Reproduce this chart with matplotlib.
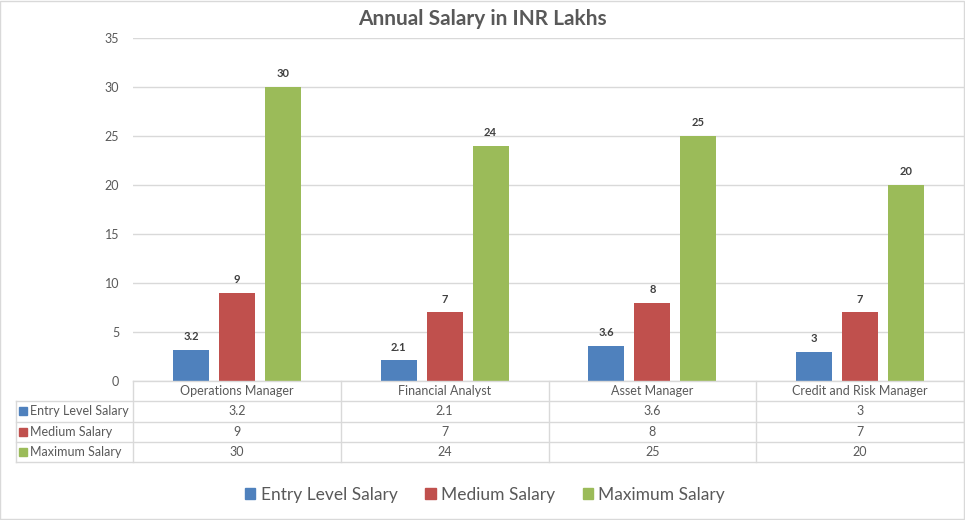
import matplotlib.pyplot as plt
from matplotlib.patches import Rectangle
import numpy as np

categories = ['Operations Manager', 'Financial Analyst', 'Asset Manager', 'Credit and Risk Manager']
series_names = ['Entry Level Salary', 'Medium Salary', 'Maximum Salary']
entry = [3.2, 2.1, 3.6, 3]
medium = [9, 7, 8, 7]
maximum = [30, 24, 25, 20]
colors = ['#4F81BD', '#C0504D', '#9BBB59']

plt.rcParams['font.family'] = ['Lato', 'DejaVu Sans']
txt = '#595959'
grid = '#D9D9D9'

W, H = 965, 520
fig = plt.figure(figsize=(W / 100, H / 100), dpi=100)

def fx(p):
    return p / W

def fy(p):
    return 1 - p / H

# plot area in pixels
x0, x1, ytop, ybot = 133, 964, 38, 381
ax = fig.add_axes([fx(x0), fy(ybot), fx(x1 - x0), (ybot - ytop) / H])

data = [entry, medium, maximum]
x = np.arange(len(categories))
bw = 0.173
step = 0.221
for i, vals in enumerate(data):
    pos = x + (i - 1) * step
    bars = ax.bar(pos, vals, bw, color=colors[i], zorder=3)
    for b, v in zip(bars, vals):
        ax.text(b.get_x() + b.get_width() / 2, v + 0.8, f'{v:g}', ha='center', va='bottom',
                fontsize=8, fontweight='bold', color='#404040')

ax.set_xlim(-0.5, len(categories) - 0.5)
ax.set_ylim(0, 35)
ax.set_yticks(range(0, 36, 5))
ax.yaxis.grid(True, color=grid, lw=1, zorder=0)
ax.set_xticks([])
ax.tick_params(axis='y', length=0, labelsize=9, labelcolor=txt, pad=10)
for s in ax.spines.values():
    s.set_visible(False)

# data table below the axis
row_h = 20.3
rows_top = ybot
col_edges = np.linspace(x0, x1, len(categories) + 1)
label_left = 16
n_rows = 1 + len(series_names)
bottom = rows_top + n_rows * row_h

def hline(y, xa, xb):
    fig.add_artist(plt.Line2D([fx(xa), fx(xb)], [fy(y), fy(y)], color=grid, lw=1))

def vline(xp, ya, yb):
    fig.add_artist(plt.Line2D([fx(xp), fx(xp)], [fy(ya), fy(yb)], color=grid, lw=1))

hline(rows_top, x0, x1)
for r in range(1, n_rows + 1):
    hline(rows_top + r * row_h, label_left, x1)
for c in col_edges:
    vline(c, rows_top, bottom)
vline(label_left, rows_top + row_h, bottom)

for j, cat in enumerate(categories):
    cx = (col_edges[j] + col_edges[j + 1]) / 2
    fig.text(fx(cx), fy(rows_top + row_h / 2), cat, ha='center', va='center', fontsize=9, color=txt)

for i, name in enumerate(series_names):
    cy = rows_top + (i + 1.5) * row_h
    fig.add_artist(Rectangle((fx(label_left + 3), fy(cy + 4)), fx(8), 8 / H, color=colors[i]))
    fig.text(fx(label_left + 14), fy(cy), name, ha='left', va='center', fontsize=9, color=txt)
    for j, v in enumerate(data[i]):
        cx = (col_edges[j] + col_edges[j + 1]) / 2
        fig.text(fx(cx), fy(cy), f'{v:g}', ha='center', va='center', fontsize=9, color=txt)

fig.text(fx(482), fy(19), 'Annual Salary in INR Lakhs', ha='center', va='center',
         fontsize=15, fontweight='bold', color=txt)

handles = [Rectangle((0, 0), 1, 1, color=c) for c in colors]
fig.legend(handles, series_names, loc='center', bbox_to_anchor=(fx(485), fy(495)), ncol=3,
           frameon=False, fontsize=12.5, labelcolor=txt, handlelength=0.6, handleheight=0.6,
           handletextpad=0.3, columnspacing=1.6)

fig.add_artist(Rectangle((0.0005, 0.001), 0.998, 0.997, fill=False, ec=grid, lw=1))

fig.savefig('out.png', dpi=100)
